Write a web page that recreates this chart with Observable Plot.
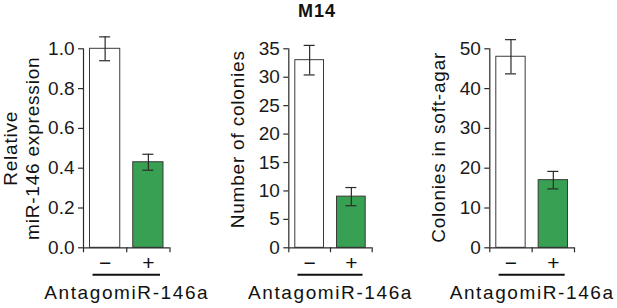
<!DOCTYPE html>
<html><head><meta charset="utf-8">
<script src="https://cdn.jsdelivr.net/npm/d3@7"></script>
<script src="https://cdn.jsdelivr.net/npm/@observablehq/plot@0.6"></script>
<style>
body{margin:0;background:#fff}
#chart{position:relative;width:617px;height:308px;font-family:"Liberation Sans",Arial,Helvetica,sans-serif;overflow:hidden}
.panel{position:absolute;top:0}
#title{position:absolute;top:1.5px;left:317px;transform:translateX(-50%);font-weight:bold;font-size:18px;line-height:18px;letter-spacing:1px;color:#111;white-space:nowrap}
</style></head><body>
<div id="chart"><div id="title"></div></div>
<script>
// ---- data ----
const title = "M14";
const categories = ["−", "+"];
const groupLabel = "AntagomiR-146a";
const panelLabels = ["Relative\nmiR-146 expression", "Number of colonies", "Colonies in soft-agar"];
const barFills = ["#ffffff", "#37a052"];

const expressionValues = [1.0, 0.43];
const expressionErrors = [0.06, 0.04];
const expressionTicks = [0, 0.2, 0.4, 0.6, 0.8, 1.0];

const colonyValues = [33, 9];
const colonyErrors = [2.6, 1.6];
const colonyTicks = [0, 5, 10, 15, 20, 25, 30, 35];

const softAgarValues = [48, 17];
const softAgarErrors = [4.3, 2.2];
const softAgarTicks = [0, 10, 20, 30, 40, 50];

// ---- layout ----
const panels = [
  {values: expressionValues, errors: expressionErrors, ticks: expressionTicks, label: panelLabels[0], fmt: d3.format(".1f"),
   left: 0, width: 205, ml: 83, mr: 35.5, labelDy: 0},
  {values: colonyValues, errors: colonyErrors, ticks: colonyTicks, label: panelLabels[1], fmt: d3.format("d"),
   left: 205, width: 205, ml: 83.3, mr: 38.3, labelDy: -9},
  {values: softAgarValues, errors: softAgarErrors, ticks: softAgarTicks, label: panelLabels[2], fmt: d3.format("d"),
   left: 410, width: 207, ml: 79.3, mr: 43, labelDy: -1}
];

document.getElementById("title").textContent = title;
const font = "'Liberation Sans', Arial, Helvetica, sans-serif";
const ink = "#2a2a2a";

for (const p of panels) {
  const rows = categories.map((c, i) => ({
    cat: c, i0: i, i1: i + 1, mid: i + 0.5,
    v: p.values[i], lo: p.values[i] - p.errors[i], hi: p.values[i] + p.errors[i], fill: barFills[i]
  }));
  const n = categories.length;
  const plot = Plot.plot({
    width: p.width, height: 308,
    marginLeft: p.ml, marginRight: p.mr, marginTop: 48.3, marginBottom: 60.7,
    style: {fontFamily: font, color: ink, background: "transparent", overflow: "visible"},
    x: {domain: [0, n], axis: null},
    y: {domain: [0, d3.max(p.ticks)], axis: null},
    marks: [
      Plot.rectY(rows, {x1: "i0", x2: "i1", y: "v", fill: "fill", stroke: "#3a3a3a", strokeWidth: 1, insetLeft: 6.5, insetRight: 6.5}),
      Plot.ruleX(rows, {x: "mid", y1: "lo", y2: "hi", stroke: ink, strokeWidth: 1.2}),
      Plot.ruleY(rows, {y: "hi", x1: "mid", x2: "mid", insetLeft: -5.5, insetRight: -5.5, stroke: ink, strokeWidth: 1.2}),
      Plot.ruleY(rows, {y: "lo", x1: "mid", x2: "mid", insetLeft: -5.5, insetRight: -5.5, stroke: ink, strokeWidth: 1.2}),
      Plot.axisY({ticks: p.ticks, tickFormat: p.fmt, tickSize: 5, tickPadding: 4, fontSize: 19, label: null, stroke: ink, strokeWidth: 1.2, fill: "#1a1a1a"}),
      Plot.ruleX([0], {stroke: ink, strokeWidth: 1.2}),
      Plot.ruleY([0], {stroke: ink, strokeWidth: 1.2}),
      Plot.axisX({ticks: d3.range(n + 1), tickFormat: () => "", tickSize: 5, label: null, stroke: ink, strokeWidth: 1.2}),
      Plot.text(rows, {x: "mid", y: 0, text: "cat", dy: 15, fontSize: 21, lineAnchor: "middle", fill: "#111"}),
      Plot.ruleY([0], {x1: 0.22, x2: n - 0.22, dy: 27, stroke: "#111", strokeWidth: 2}),
      Plot.text([groupLabel], {frameAnchor: "bottom", text: d => d, dy: 51, lineAnchor: "bottom", fontSize: 19, fill: "#111", ariaDescription: "group-label"}),
      Plot.text([p.label], {frameAnchor: "left", textAnchor: "middle", text: d => d, rotate: -90, dx: -45, dy: p.labelDy, lineAnchor: "bottom", lineHeight: 1.12, fontSize: 19, fill: "#111", ariaDescription: "y-label"})
    ]
  });
  d3.select(plot).selectAll("g[aria-description='group-label'] text").style("letter-spacing", "1.6px");
  d3.select(plot).selectAll("g[aria-description='y-label'] text").style("letter-spacing", "0.8px");
  plot.classList.add("panel");
  plot.style.left = p.left + "px";
  document.getElementById("chart").appendChild(plot);
}
</script>
</body></html>
